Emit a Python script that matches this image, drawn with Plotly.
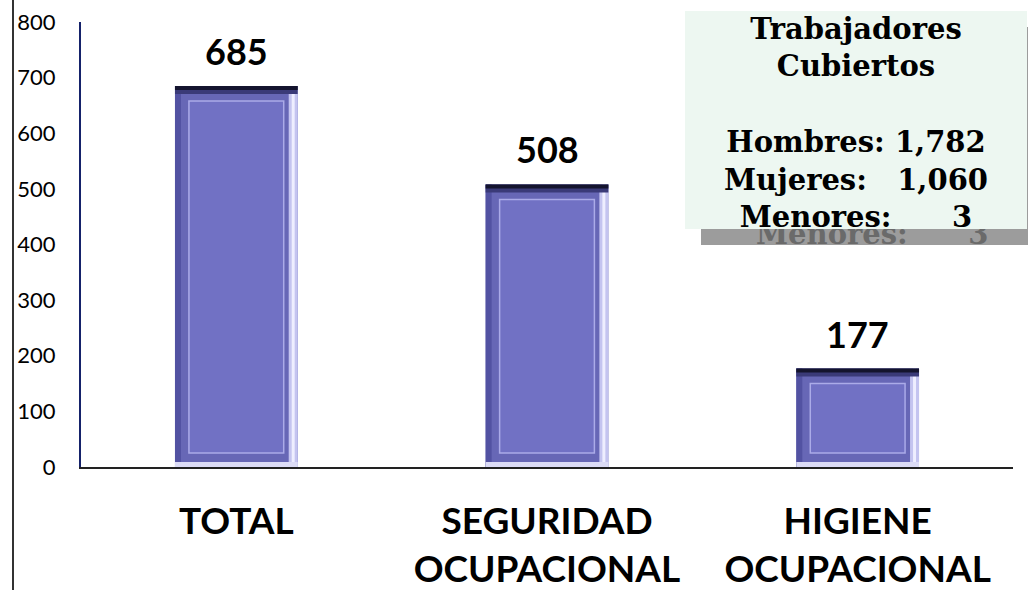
import plotly.graph_objects as go

# ---- data ----
categories = ["TOTAL", "SEGURIDAD<br>OCUPACIONAL", "HIGIENE<br>OCUPACIONAL"]
values = [685, 508, 177]
y_ticks = [0, 100, 200, 300, 400, 500, 600, 700, 800]
box_title = ["Trabajadores", "Cubiertos"]
box_labels = ["Hombres:", "Mujeres:", "Menores:"]
box_values = [1782, 1060, 3]

# ---- geometry helpers (styling only) ----
W = 0.395               # bar width in category units
plot_h_px = 445.0
y_max = 800.0
u = y_max / plot_h_px   # data units per pixel
px_x = W / 123.0        # category units per pixel

fig = go.Figure()

# main bar
fig.add_trace(go.Bar(x=categories, y=values, width=W, name="Total",
                     marker=dict(color="#6767B6", line=dict(width=0)),
                     hoverinfo="x+y"))
# left darker edge
fig.add_trace(go.Bar(x=categories, y=values, width=6 * px_x, offset=-W / 2,
                     marker=dict(color="#5252A2", line=dict(width=0)),
                     hoverinfo="skip", showlegend=False))
# right highlight edge
fig.add_trace(go.Bar(x=categories, y=values, width=9 * px_x, offset=W / 2 - 9 * px_x,
                     marker=dict(color="#C4C4F0", line=dict(width=0)),
                     hoverinfo="skip", showlegend=False))
fig.add_trace(go.Bar(x=categories, y=values, width=3 * px_x, offset=W / 2 - 6 * px_x,
                     marker=dict(color="#EEEEFF", line=dict(width=0)),
                     hoverinfo="skip", showlegend=False))
# bottom light strip
fig.add_trace(go.Bar(x=categories, y=[5 * u for _ in values], base=[0 for _ in values],
                     width=W, marker=dict(color="#DCDCF6", line=dict(width=0)),
                     hoverinfo="skip", showlegend=False))
# top dark band (two tones for a soft bevel)
fig.add_trace(go.Bar(x=categories, y=[8 * u for _ in values],
                     base=[v - 8 * u for v in values], width=W,
                     marker=dict(color="#3A3A78", line=dict(width=0)),
                     hoverinfo="skip", showlegend=False))
fig.add_trace(go.Bar(x=categories, y=[4 * u for _ in values],
                     base=[v - 4 * u for v in values], width=W,
                     marker=dict(color="#14142E", line=dict(width=0)),
                     hoverinfo="skip", showlegend=False))
# inner panel
fig.add_trace(go.Bar(x=categories, y=[v - 29 * u for v in values],
                     base=[14 * u for _ in values], width=W - 28 * px_x,
                     marker=dict(color="#7171C4", line=dict(color="#ABABE8", width=1.5)),
                     hoverinfo="skip", showlegend=False))

# value labels
for c, v in zip(categories, values):
    fig.add_annotation(x=c, y=v, xref="x", yref="y", text=f"<b>{v}</b>",
                       showarrow=False, yanchor="middle", yshift=35,
                       font=dict(family="Lato", size=36, color="#000000"))

# box text
nb = "\u00a0"
lines = [f"{box_labels[0]}{nb}{box_values[0]:,}",
         f"{box_labels[1]}{nb*3}{box_values[1]:,}",
         f"{box_labels[2]}{nb*6}{box_values[2]:,}"]
box_text = "<b>" + "<br>".join(box_title + [""] + lines) + "</b>"

L, R, T, B = 81, 15, 22, 123
PW = 1028 - L - R


def px2paper_x(px):
    return (px - L) / PW


def px2paper_y(py):
    return (467 - py) / plot_h_px


box_font = dict(family="DejaVu Serif", size=29)

# shadow rectangle
fig.add_shape(type="rect", xref="paper", yref="paper", layer="above",
              x0=px2paper_x(701), x1=px2paper_x(1043),
              y0=px2paper_y(245), y1=px2paper_y(27),
              fillcolor="#9C9C9C", line=dict(width=0))
# shadow text (only its lower half peeks out below the box)
fig.add_annotation(xref="paper", yref="paper", x=px2paper_x(872), y=px2paper_y(234),
                   xanchor="center", yanchor="middle",
                   text="<b>" + lines[2] + "</b>", showarrow=False,
                   font=dict(color="#6A6A6A", **box_font))
# main box background (annotation so that it covers the shadow text)
fig.add_annotation(xref="paper", yref="paper", x=px2paper_x(685), y=px2paper_y(11),
                   xanchor="left", yanchor="top", text=" ", showarrow=False,
                   width=342, height=218, borderpad=0, borderwidth=0,
                   bgcolor="#EDF7F1", font=dict(size=4))
# main box text
fig.add_annotation(xref="paper", yref="paper", x=px2paper_x(685), y=px2paper_y(11),
                   xanchor="left", yanchor="top", yshift=-3,
                   text=box_text, showarrow=False, align="center", valign="middle",
                   width=342, height=218, borderpad=0, borderwidth=0,
                   bgcolor="rgba(0,0,0,0)", font=dict(color="#000000", **box_font))

# left page border line
fig.add_shape(type="line", xref="paper", yref="paper",
              x0=px2paper_x(13), x1=px2paper_x(13), y0=-0.4, y1=1.2,
              line=dict(color="#333333", width=2))

fig.update_layout(
    width=1028, height=590,
    margin=dict(l=L, r=R, t=T, b=B, pad=0, autoexpand=False),
    paper_bgcolor="white", plot_bgcolor="white",
    barmode="overlay", showlegend=False,
    xaxis=dict(type="category", showgrid=False, zeroline=False, automargin=False,
               showline=True, linecolor="#222222", linewidth=1.5,
               ticks="", ticklabelstandoff=21,
               tickfont=dict(family="Lato", size=37, color="#000000", weight="bold")),
    yaxis=dict(range=[0, y_max], tickvals=y_ticks, showgrid=False, zeroline=False,
               automargin=False,
               showline=True, linecolor="#15226A", linewidth=2,
               ticks="", ticklabelstandoff=19,
               tickfont=dict(family="Lato", size=22, color="#000000")),
)

fig.write_html("out.html", config={"displayModeBar": False, "responsive": False},
               post_script="document.body.style.margin='0px';document.body.style.overflow='hidden';")
